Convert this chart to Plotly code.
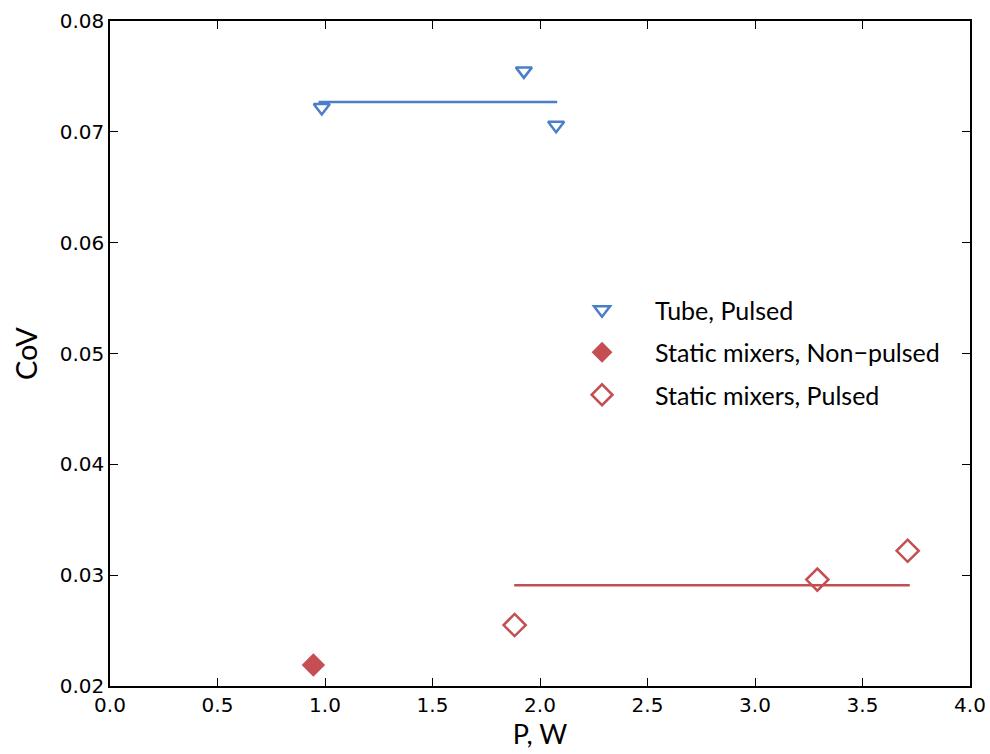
import plotly.graph_objects as go

# Data
tube_x = [0.985, 1.925, 2.075]
tube_y = [0.0722, 0.0755, 0.0706]
tube_fit_x = [0.97, 2.08]
tube_fit_y = [0.0727, 0.0727]

np_x = [0.946]
np_y = [0.0219]

sm_x = [1.882, 3.29, 3.71]
sm_y = [0.0255, 0.0296, 0.0322]
sm_fit_x = [1.88, 3.72]
sm_fit_y = [0.0291, 0.0291]

x_ticks = [0.0, 0.5, 1.0, 1.5, 2.0, 2.5, 3.0, 3.5, 4.0]
y_ticks = [0.02, 0.03, 0.04, 0.05, 0.06, 0.07, 0.08]

BLUE = "#4a7ec6"
RED = "#c44e52"

fig = go.Figure()
fig.add_trace(go.Scatter(x=tube_fit_x, y=tube_fit_y, mode="lines",
                         line=dict(color=BLUE, width=2.5), showlegend=False, hoverinfo="skip"))
fig.add_trace(go.Scatter(x=sm_fit_x, y=sm_fit_y, mode="lines",
                         line=dict(color=RED, width=2.5), showlegend=False, hoverinfo="skip"))
fig.add_trace(go.Scatter(x=tube_x, y=tube_y, mode="markers", name="Tube, Pulsed",
                         legendgroup="a",
                         marker=dict(symbol="triangle-down-open", size=14, color=BLUE,
                                     line=dict(width=2.5, color=BLUE))))
fig.add_trace(go.Scatter(x=np_x, y=np_y, mode="markers", name="Static mixers, Non\u2212pulsed",
                         legendgroup="b",
                         marker=dict(symbol="diamond", size=18, color=RED,
                                     line=dict(width=0, color=RED))))
fig.add_trace(go.Scatter(x=sm_x, y=sm_y, mode="markers", name="Static mixers, Pulsed",
                         legendgroup="c",
                         marker=dict(symbol="diamond-open", size=17, color=RED,
                                     line=dict(width=2.5, color=RED))))

axis_common = dict(showgrid=False, zeroline=False, showline=True, linecolor="black",
                   linewidth=1.5, mirror="ticks", ticks="inside", ticklen=8,
                   tickwidth=1, tickcolor="black", automargin=False,
                   ticklabeloverflow="allow")

fig.update_xaxes(range=[0, 4], tickvals=x_ticks, ticktext=[f"{v:.1f}" for v in x_ticks],
                 tickfont=dict(family="DejaVu Sans", size=20, color="black"),
                 title=dict(text="P, W", font=dict(family="Lato, Noto Sans", size=27, color="black"),
                            standoff=4),
                 **axis_common)
fig.update_yaxes(range=[0.02, 0.08], tickvals=y_ticks, ticktext=[f"{v:.2f}" for v in y_ticks],
                 tickfont=dict(family="DejaVu Sans", size=20, color="black"),
                 title=dict(text="CoV", font=dict(family="Lato, Noto Sans", size=29, color="black"),
                            standoff=14),
                 **axis_common)

fig.update_layout(
    width=990, height=754,
    margin=dict(l=110, r=20, t=21, b=68),
    plot_bgcolor="white", paper_bgcolor="white",
    legend=dict(x=0.5105, y=0.6, xanchor="left", yanchor="top",
                font=dict(family="Lato, Noto Sans", size=25, color="black"),
                bgcolor="rgba(0,0,0,0)", tracegroupgap=7, traceorder="grouped",
                itemwidth=96),
)

fig.write_html("out.html",
               config={"displayModeBar": False},
               post_script="document.body.style.margin='0';document.body.style.overflow='hidden';")
